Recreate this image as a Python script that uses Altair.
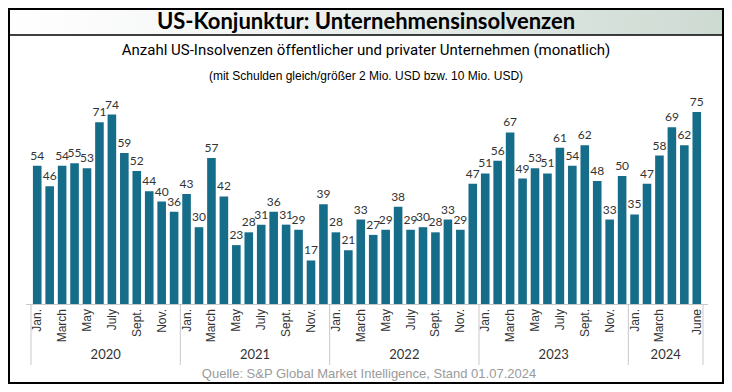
import altair as alt
import pandas as pd

# ---- data ----
values_2020 = [54, 46, 54, 55, 53, 71, 74, 59, 52, 44, 40, 36]
values_2021 = [43, 30, 57, 42, 23, 28, 31, 36, 31, 29, 17, 39]
values_2022 = [28, 21, 33, 27, 29, 38, 29, 30, 28, 33, 29, 47]
values_2023 = [51, 56, 67, 49, 53, 51, 61, 54, 62, 48, 33, 50]
values_2024 = [35, 47, 58, 69, 62, 75]
years = ["2020", "2021", "2022", "2023", "2024"]
month_ticks = ["Jan.", "", "March", "", "May", "", "July", "", "Sept.", "", "Nov.", ""]
month_ticks_2024 = ["Jan.", "", "March", "", "", "June"]

title_text = "US-Konjunktur: Unternehmensinsolvenzen"
subtitle_1 = "Anzahl US-Insolvenzen öffentlicher und privater Unternehmen (monatlich)"
subtitle_2 = "(mit Schulden gleich/größer 2 Mio. USD bzw. 10 Mio. USD)"
source_text = "Quelle: S&P Global Market Intelligence, Stand 01.07.2024"

# ---- build tables ----
series = [values_2020, values_2021, values_2022, values_2023, values_2024]
ticks = [month_ticks, month_ticks, month_ticks, month_ticks, month_ticks_2024]
rows = []
bounds = [-0.5]
year_rows = []
i = 0
for y, vals, tk in zip(years, series, ticks):
    start = i
    for v, t in zip(vals, tk):
        rows.append({"idx": i, "value": v, "year": y, "tick": t})
        i += 1
    bounds.append(i - 0.5)
    year_rows.append({"year": y, "center": (start + i - 1) / 2})
df = pd.DataFrame(rows)
df_ticks = df[df["tick"] != ""]
df_bounds = pd.DataFrame({"b": bounds})
df_years = pd.DataFrame(year_rows)

W, H = 716, 376
xs = alt.Scale(domain=[-0.5, 53.5], range=[18, 700], nice=False, zero=False)
ys = alt.Scale(domain=[0, 75], range=[296, 104], nice=False)

one = pd.DataFrame({"t": [""]})

def label(text, x, y, **kw):
    return alt.Chart(pd.DataFrame({"t": [text]})).mark_text(**kw).encode(
        x=alt.value(x), y=alt.value(y), text="t:N")

header = alt.Chart(one).mark_rect(
    color={"gradient": "linear", "x1": 0, "x2": 1, "y1": 0, "y2": 0,
           "stops": [{"offset": 0, "color": "#ffffff"},
                     {"offset": 0.3, "color": "#f4f6f5"},
                     {"offset": 1, "color": "#cddad2"}]}
).encode(x=alt.value(0), x2=alt.value(W), y=alt.value(0), y2=alt.value(27))

header_line = alt.Chart(one).mark_rule(color="#000000", strokeWidth=1.5).encode(
    x=alt.value(0), x2=alt.value(W), y=alt.value(27))

border = alt.Chart(one).mark_rect(fillOpacity=0, stroke="#000000", strokeWidth=2).encode(
    x=alt.value(1), x2=alt.value(W - 1), y=alt.value(1), y2=alt.value(H - 1))

bars = alt.Chart(df).mark_bar(size=8.6, color="#166d89").encode(
    x=alt.X("idx:Q", scale=xs, axis=None),
    y=alt.Y("value:Q", scale=ys, axis=None),
)

value_labels = alt.Chart(df).mark_text(
    dy=-6, baseline="alphabetic", fontSize=12, font="Lato", color="#333333"
).encode(
    x=alt.X("idx:Q", scale=xs, axis=None),
    y=alt.Y("value:Q", scale=ys, axis=None),
    text="value:Q",
)

axis_line = alt.Chart(one).mark_rule(color="#c8c8c8", strokeWidth=1).encode(
    x=alt.value(18), x2=alt.value(700), y=alt.value(296.5))

separators = alt.Chart(df_bounds).mark_rule(color="#c8c8c8", strokeWidth=1).encode(
    x=alt.X("b:Q", scale=xs, axis=None), y=alt.value(296), y2=alt.value(357))

month_labels = alt.Chart(df_ticks).mark_text(
    angle=270, align="right", baseline="middle", fontSize=12,
    font="Liberation Sans", color="#333333"
).encode(
    x=alt.X("idx:Q", scale=xs, axis=None),
    y=alt.value(301),
    text="tick:N",
)

year_labels = alt.Chart(df_years).mark_text(
    baseline="middle", fontSize=13, font="Lato", color="#333333"
).encode(
    x=alt.X("center:Q", scale=xs, axis=None),
    y=alt.value(347),
    text="year:N",
)

title = label(title_text, 358, 14, font="Lato", fontWeight="bold", fontSize=22,
              color="#000000", baseline="middle")
sub1 = label(subtitle_1, 358, 42, font="Roboto", fontSize=15,
             color="#000000", baseline="middle")
sub2 = label(subtitle_2, 358, 68, font="Liberation Sans", fontSize=12,
             color="#000000", baseline="middle")
source = label(source_text, 361, 366, font="Liberation Sans", fontSize=13,
               color="#9a9a9a", baseline="middle")

chart = alt.layer(
    header, header_line, bars, value_labels, axis_line, separators,
    month_labels, year_labels, title, sub1, sub2, source, border
).properties(
    width=W, height=H, autosize="none", padding=0
).configure_view(strokeWidth=0).configure(background="#ffffff")

chart.save("out.html", embed_options={"renderer": "svg", "actions": False})
